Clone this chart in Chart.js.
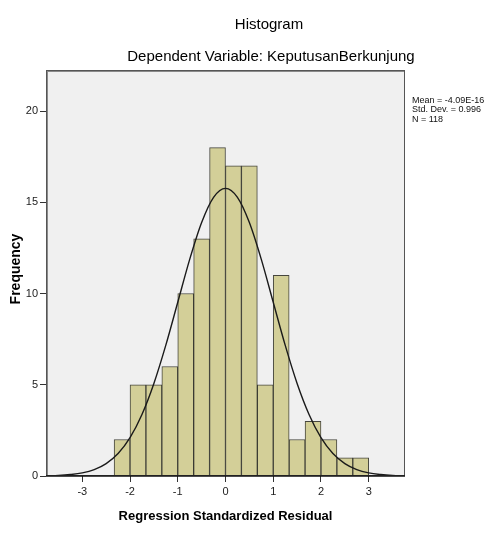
<!DOCTYPE html>
<html><head><meta charset="utf-8">
<script src="https://cdn.jsdelivr.net/npm/chart.js@4"></script>
<style>html,body{margin:0;padding:0;background:#fff}#wrap{width:493px;height:541px}</style>
</head><body><div id="wrap"><canvas id="c" width="493" height="541"></canvas></div>
<script>
// ---- data ----
const binCenters = [-2.1667,-1.8333,-1.5,-1.1667,-0.8333,-0.5,-0.1667,0.1667,0.5,0.8333,1.1667,1.5,1.8333,2.1667,2.5,2.8333];
const counts     = [2,5,5,6,10,13,18,17,17,5,11,2,3,2,1,1];
const curveX = [-3.75,-3.5,-3.25,-3,-2.75,-2.5,-2.25,-2,-1.75,-1.5,-1.25,-1,-0.75,-0.5,-0.25,0,0.25,0.5,0.75,1,1.25,1.5,1.75,2,2.25,2.5,2.75,3,3.25,3.5,3.75];
const curveY = [0.01,0.03,0.08,0.17,0.35,0.68,1.23,2.10,3.37,5.07,7.17,9.52,11.87,13.89,15.27,15.76,15.27,13.89,11.87,9.52,7.17,5.07,3.37,2.10,1.23,0.68,0.35,0.17,0.08,0.03,0.01];
const xTicks = [-3,-2,-1,0,1,2,3];
const yTicks = [0,5,10,15,20];
const titleText = "Histogram";
const subtitleText = "Dependent Variable: KeputusanBerkunjung";
const xTitle = "Regression Standardized Residual";
const yTitle = "Frequency";
const statsLines = ["Mean = -4.09E-16","Std. Dev. = 0.996","N = 118"];

const FONT = "'Liberation Sans', Arial, sans-serif";

const decor = {
  id: 'decor',
  beforeDraw(chart) {
    const {ctx, chartArea: a} = chart;
    ctx.save();
    ctx.fillStyle = '#f0f0f0';
    ctx.fillRect(a.left, a.top, a.right - a.left, a.bottom - a.top);
    ctx.restore();
  },
  afterDraw(chart) {
    const {ctx, chartArea: a} = chart;
    ctx.save();
    // border
    ctx.strokeStyle = '#8a8a8a';
    ctx.lineWidth = 2;
    ctx.beginPath();
    ctx.moveTo(a.left + 1, a.bottom); ctx.lineTo(a.left + 1, a.top + 1); ctx.lineTo(a.right, a.top + 1);
    ctx.stroke();
    ctx.strokeStyle = '#555';
    ctx.lineWidth = 1;
    ctx.strokeRect(a.left + 0.5, a.top + 0.5, a.right - a.left - 1, a.bottom - a.top - 1);
    ctx.strokeStyle = '#111';
    ctx.lineWidth = 1.5;
    ctx.beginPath(); ctx.moveTo(a.left, a.bottom); ctx.lineTo(a.right, a.bottom); ctx.stroke();

    ctx.fillStyle = '#000';
    ctx.textAlign = 'center';
    ctx.textBaseline = 'alphabetic';
    ctx.font = '15px ' + FONT;
    ctx.fillText(titleText, 269, 29);
    ctx.fillText(subtitleText, 271, 61);
    ctx.font = 'bold 13px ' + FONT;
    ctx.fillText(xTitle, (a.left + a.right) / 2, 520);
    ctx.save();
    ctx.translate(20, (a.top + a.bottom) / 2 - 4);
    ctx.rotate(-Math.PI / 2);
    ctx.font = 'bold 14px ' + FONT;
    ctx.fillText(yTitle, 0, 0);
    ctx.restore();
    ctx.textAlign = 'left';
    ctx.font = '9px ' + FONT;
    ctx.fillStyle = '#111';
    statsLines.forEach((t, i) => ctx.fillText(t, 412, 102.5 + i * 9.7));
    ctx.restore();
  }
};

new Chart(document.getElementById('c'), {
  type: 'bar',
  data: {
    datasets: [
      {
        type: 'line',
        data: curveX.map((x, i) => ({x, y: curveY[i]})),
        borderColor: '#1a1a1a',
        borderWidth: 1.4,
        pointRadius: 0,
        fill: false,
        cubicInterpolationMode: 'monotone',
        order: 0
      },
      {
        type: 'bar',
        data: binCenters.map((x, i) => ({x, y: counts[i]})),
        backgroundColor: '#d3cf98',
        borderColor: 'rgba(40,40,30,0.85)',
        borderWidth: 1,
        barPercentage: 1,
        categoryPercentage: 1,
        order: 1
      }
    ]
  },
  options: {
    responsive: false,
    animation: false,
    devicePixelRatio: 1,
    layout: {padding: {top: 70, right: 88, left: 0, bottom: 0}},
    plugins: {legend: {display: false}, tooltip: {enabled: false}, title: {display: false}},
    scales: {
      x: {
        type: 'linear',
        offset: false,
        min: -3.76, max: 3.76,
        afterFit(s) { s.height = 65; },
        afterBuildTicks(s) { s.ticks = xTicks.map(v => ({value: v})); },
        grid: {display: true, drawOnChartArea: false, drawTicks: true, tickLength: 6, color: '#333', offset: false},
        border: {display: false},
        ticks: {font: {family: FONT, size: 11}, color: '#222', padding: 3, maxRotation: 0, autoSkip: false}
      },
      y: {
        type: 'linear',
        min: 0, max: 22.25,
        afterFit(s) { s.width = 46; },
        afterBuildTicks(s) { s.ticks = yTicks.map(v => ({value: v})); },
        grid: {display: true, drawOnChartArea: false, drawTicks: true, tickLength: 6, color: '#333'},
        border: {display: false},
        ticks: {font: {family: FONT, size: 11}, color: '#222', padding: 2, autoSkip: false}
      }
    }
  },
  plugins: [decor]
});
</script>
</body></html>
